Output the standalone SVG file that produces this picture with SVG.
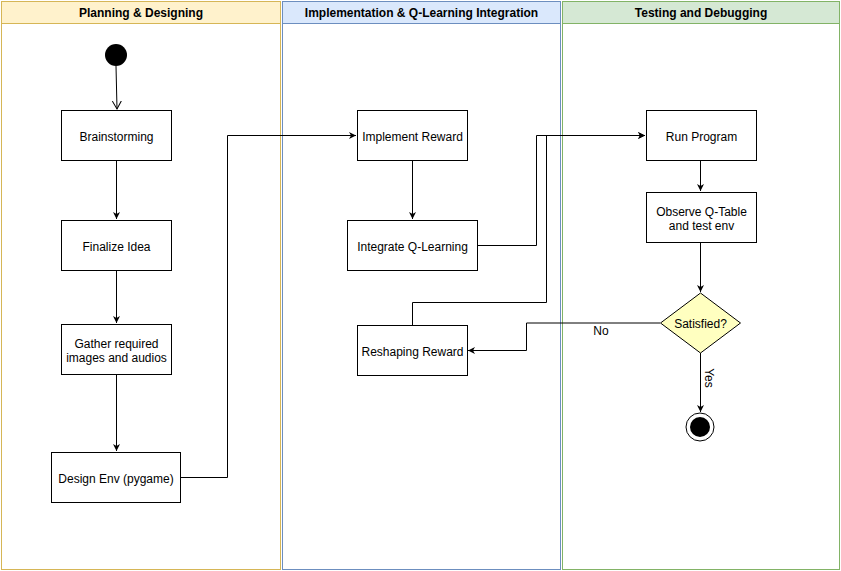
<svg xmlns="http://www.w3.org/2000/svg" width="841" height="571" viewBox="0 0 841 571">
<style>
text{font-family:"Liberation Sans",Arial,sans-serif;font-size:12px;fill:#000}
.h{font-weight:bold}
.box{fill:#fff;stroke:#000;stroke-width:1}
.c{fill:none;stroke:#000;stroke-width:1}
</style>
<defs>
<marker id="a" markerWidth="8" markerHeight="8" refX="7" refY="4" orient="auto" markerUnits="userSpaceOnUse"><path d="M0,0.5 L7,4 L0,7.5 L2,4 Z" fill="#000"/></marker>
<marker id="o" markerWidth="10" markerHeight="12" refX="8" refY="5" orient="auto" markerUnits="userSpaceOnUse"><path d="M0,0.5 L8,5 L0,9.5" fill="none" stroke="#000"/></marker>
</defs>
<g id="lane1">
<rect x="1.5" y="1.5" width="279" height="568" fill="#fff" stroke="#d6b656"/>
<rect x="1.5" y="1.5" width="279" height="22" fill="#fff2cc" stroke="#d6b656"/>
<text class="h" x="141" y="17" text-anchor="middle">Planning &amp; Designing</text>
</g>
<g id="lane2">
<rect x="282.5" y="1.5" width="278" height="568" fill="#fff" stroke="#6c8ebf"/>
<rect x="282.5" y="1.5" width="278" height="22" fill="#dae8fc" stroke="#6c8ebf"/>
<text class="h" x="421.5" y="17" text-anchor="middle">Implementation &amp; Q-Learning Integration</text>
</g>
<g id="lane3">
<rect x="562.5" y="1.5" width="277" height="568" fill="#fff" stroke="#82b366"/>
<rect x="562.5" y="1.5" width="277" height="22" fill="#d5e8d4" stroke="#82b366"/>
<text class="h" x="701" y="17" text-anchor="middle">Testing and Debugging</text>
</g>
<g id="connectors">
<path class="c" d="M116,66 L117,109" marker-end="url(#o)"/>
<path class="c" d="M116.5,160 V219" marker-end="url(#a)"/>
<path class="c" d="M116.5,270 V323" marker-end="url(#a)"/>
<path class="c" d="M116.5,374 V451" marker-end="url(#a)"/>
<path class="c" d="M180,477.5 H227.5 V135.5 H356" marker-end="url(#a)"/>
<path class="c" d="M412.5,160 V219" marker-end="url(#a)"/>
<path class="c" d="M477,245.5 H536.5 V135.5 H645" marker-end="url(#a)"/>
<path class="c" d="M412.5,325 V302.5 H546.5 V135.5 H645" marker-end="url(#a)"/>
<path class="c" d="M700.5,160 V191" marker-end="url(#a)"/>
<path class="c" d="M700.5,242 L700.5,292" marker-end="url(#a)"/>
<path class="c" d="M660,323 H526.5 V350.5 H468" marker-end="url(#a)"/>
<text x="601" y="335" text-anchor="middle">No</text>
<path class="c" d="M700.5,353 V412" marker-end="url(#a)"/>
<text x="0" y="0" text-anchor="middle" transform="translate(705,378) rotate(90)">Yes</text>
</g>
<g id="start"><circle cx="116" cy="55" r="11" fill="#000"/></g>
<g id="brainstorming"><rect class="box" x="61.5" y="110.5" width="110" height="50"/><text x="116.5" y="141" text-anchor="middle">Brainstorming</text></g>
<g id="finalize"><rect class="box" x="61.5" y="220.5" width="110" height="50"/><text x="116.5" y="251" text-anchor="middle">Finalize Idea</text></g>
<g id="gather"><rect class="box" x="61.5" y="324.5" width="110" height="50"/><text x="116.5" y="348" text-anchor="middle">Gather required</text><text x="116.5" y="362" text-anchor="middle">images and audios</text></g>
<g id="design"><rect class="box" x="51.5" y="452.5" width="129" height="50"/><text x="116" y="483" text-anchor="middle">Design Env (pygame)</text></g>
<g id="implement"><rect class="box" x="357.5" y="110.5" width="110" height="50"/><text x="412.5" y="141" text-anchor="middle">Implement Reward</text></g>
<g id="integrate"><rect class="box" x="347.5" y="220.5" width="130" height="50"/><text x="412.5" y="251" text-anchor="middle">Integrate Q-Learning</text></g>
<g id="reshaping"><rect class="box" x="357.5" y="325.5" width="110" height="50"/><text x="412.5" y="356" text-anchor="middle">Reshaping Reward</text></g>
<g id="run"><rect class="box" x="646.5" y="110.5" width="110" height="50"/><text x="701.5" y="141" text-anchor="middle">Run Program</text></g>
<g id="observe"><rect class="box" x="646.5" y="192.5" width="110" height="50"/><text x="701.5" y="216" text-anchor="middle">Observe Q-Table</text><text x="701.5" y="230" text-anchor="middle">and test env</text></g>
<g id="satisfied"><path d="M700.5,293 L740.5,323 L700.5,353 L660.5,323 Z" fill="#ffffc0" stroke="#000"/><text x="700.5" y="328" text-anchor="middle">Satisfied?</text></g>
<g id="end"><circle cx="700" cy="427" r="14" fill="#fff" stroke="#000"/><circle cx="700" cy="427" r="10" fill="#000"/></g>
</svg>
